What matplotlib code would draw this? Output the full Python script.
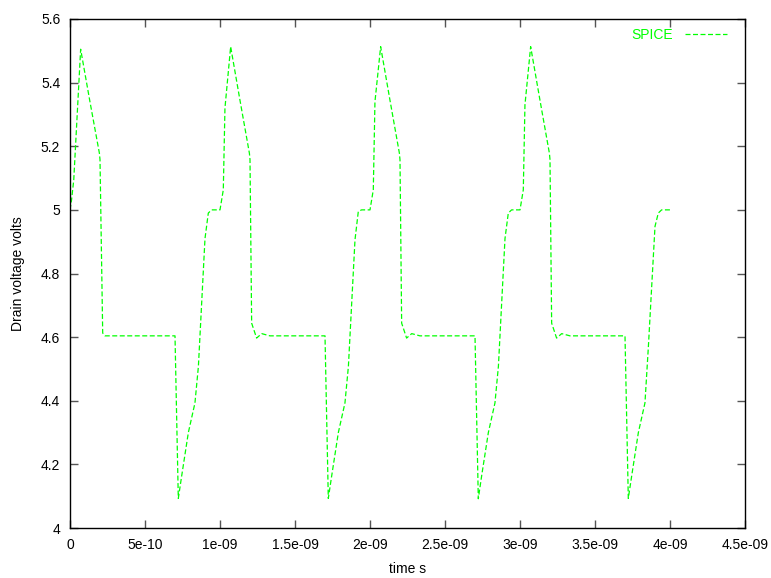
import numpy as np
import matplotlib
matplotlib.use("Agg")
import matplotlib.pyplot as plt
from matplotlib.ticker import FuncFormatter, MultipleLocator

plt.rcParams['font.family'] = ['Liberation Sans', 'DejaVu Sans']
plt.rcParams['font.size'] = 10

# SPICE transient output, time in ns, drain voltage in V
time_ns = [
    0.000, 0.010, 0.025, 0.071, 0.133, 0.196, 0.200, 0.218, 0.233, 0.400, 0.700,
    0.722, 0.744, 0.789, 0.833, 0.856, 0.900, 0.922, 0.944, 1.000,
    1.022, 1.033, 1.071, 1.133, 1.196, 1.200, 1.211, 1.244, 1.278, 1.333, 1.500, 1.700,
    1.722, 1.744, 1.789, 1.833, 1.856, 1.900, 1.922, 1.944, 2.000,
    2.022, 2.033, 2.071, 2.133, 2.196, 2.200, 2.211, 2.244, 2.278, 2.333, 2.500, 2.700,
    2.722, 2.744, 2.789, 2.833, 2.856, 2.900, 2.922, 2.944, 3.000,
    3.022, 3.033, 3.071, 3.133, 3.196, 3.200, 3.211, 3.244, 3.278, 3.333, 3.500, 3.700,
    3.722, 3.744, 3.789, 3.833, 3.856, 3.900, 3.922, 3.944, 4.000,
]
drain_v = [
    5.000, 5.030, 5.094, 5.505, 5.340, 5.178, 5.158, 4.613, 4.604, 4.604, 4.604,
    4.093, 4.162, 4.300, 4.393, 4.508, 4.910, 4.990, 5.000, 5.000,
    5.063, 5.320, 5.513, 5.345, 5.178, 5.158, 4.644, 4.597, 4.611, 4.604, 4.604, 4.604,
    4.093, 4.162, 4.300, 4.393, 4.508, 4.906, 4.995, 5.000, 5.000,
    5.063, 5.340, 5.513, 5.345, 5.178, 5.157, 4.644, 4.597, 4.611, 4.604, 4.604, 4.604,
    4.092, 4.163, 4.300, 4.393, 4.508, 4.910, 4.990, 5.000, 5.000,
    5.063, 5.330, 5.513, 5.345, 5.178, 5.158, 4.644, 4.597, 4.611, 4.604, 4.604, 4.604,
    4.093, 4.162, 4.300, 4.393, 4.571, 4.948, 4.990, 5.000, 5.000,
]

t = np.array(time_ns) * 1e-9
v = np.array(drain_v)

fig = plt.figure(figsize=(7.71, 5.78), dpi=100)
ax = fig.add_axes([70/771, 1 - 528/578, 675/771, 509/578])

ax.plot(t, v, color='#00ff00', lw=0.9, ls=(0, (4, 2)), label='SPICE')

ax.set_xlim(0, 4.5e-9)
ax.set_ylim(4, 5.6)
ax.xaxis.set_major_locator(MultipleLocator(5e-10))
ax.yaxis.set_major_locator(MultipleLocator(0.2))
ax.xaxis.set_major_formatter(FuncFormatter(lambda x, p: '%g' % x))
ax.yaxis.set_major_formatter(FuncFormatter(lambda y, p: '%g' % round(y, 6)))
ax.tick_params(direction='in', length=6, width=1, top=True, right=True,
               pad=7, colors='#555555', labelcolor='black', labelsize=10)
for s in ax.spines.values():
    s.set_linewidth(1)

ax.set_xlabel('time s')
ax.set_ylabel('Drain voltage volts')
ax.xaxis.set_label_coords(0.5, -0.066)
ax.yaxis.set_label_coords(-0.066, 0.5)

leg = ax.legend(loc='upper right', bbox_to_anchor=(727/771, 1 - 28/578),
                bbox_transform=fig.transFigure, frameon=False, markerfirst=False,
                handlelength=3.0, handletextpad=0.9, borderaxespad=0, borderpad=0)
for txt in leg.get_texts():
    txt.set_color('#00ff00')

fig.savefig('out.png', dpi=100)
